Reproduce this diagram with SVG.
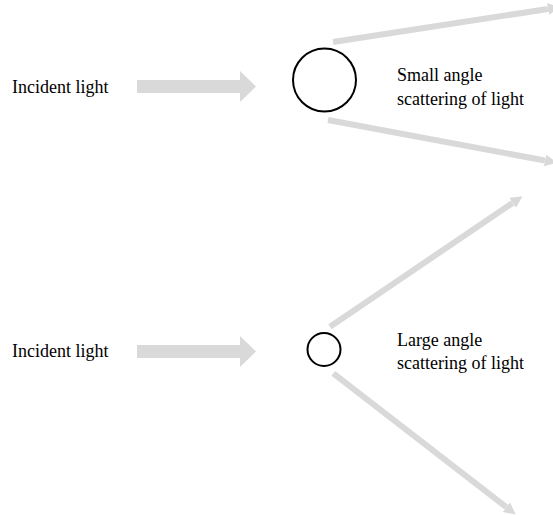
<svg xmlns="http://www.w3.org/2000/svg" width="553" height="515" viewBox="0 0 553 515">
<defs>
<style>
.lbl{font-family:"Liberation Serif","Times New Roman",serif;font-size:18px;fill:#000}
.ray{stroke:#d9d9d9;stroke-width:6;fill:none;marker-end:url(#ah)}
.fat{fill:#d9d9d9}
.p{fill:#fff;stroke:#000;stroke-width:2}
</style>
<marker id="ah" viewBox="0 0 10 10" refX="0" refY="5" markerWidth="2" markerHeight="2" orient="auto" markerUnits="strokeWidth">
<path d="M0,0 L10,5 L0,10 z" fill="#d9d9d9"/>
</marker>
</defs>
<rect width="553" height="515" fill="#fff"/>
<g id="connectors">
<line class="ray" x1="333" y1="42" x2="548" y2="9"/>
<line class="ray" x1="328" y1="120" x2="545" y2="160.5"/>
<line class="ray" x1="330" y1="326.7" x2="512.6" y2="202.9"/>
<line class="ray" x1="333.3" y1="373.3" x2="506.3" y2="507.2"/>
</g>
<g id="incident1">
<text class="lbl" x="12" y="93">Incident light</text>
<polygon class="fat" points="137,80 240,80 240,71 256,86.5 240,102 240,93 137,93"/>
</g>
<g id="particle1">
<circle class="p" cx="324.5" cy="80" r="31.5"/>
</g>
<g id="label1">
<text class="lbl" x="397" y="81">Small angle</text>
<text class="lbl" x="397" y="105">scattering of light</text>
</g>
<g id="incident2">
<text class="lbl" x="12" y="357">Incident light</text>
<polygon class="fat" points="137,345 240,345 240,336 256,351.5 240,367 240,358 137,358"/>
</g>
<g id="particle2">
<circle class="p" cx="324" cy="349.5" r="16.5"/>
</g>
<g id="label2">
<text class="lbl" x="397" y="346">Large angle</text>
<text class="lbl" x="397" y="369">scattering of light</text>
</g>
</svg>
